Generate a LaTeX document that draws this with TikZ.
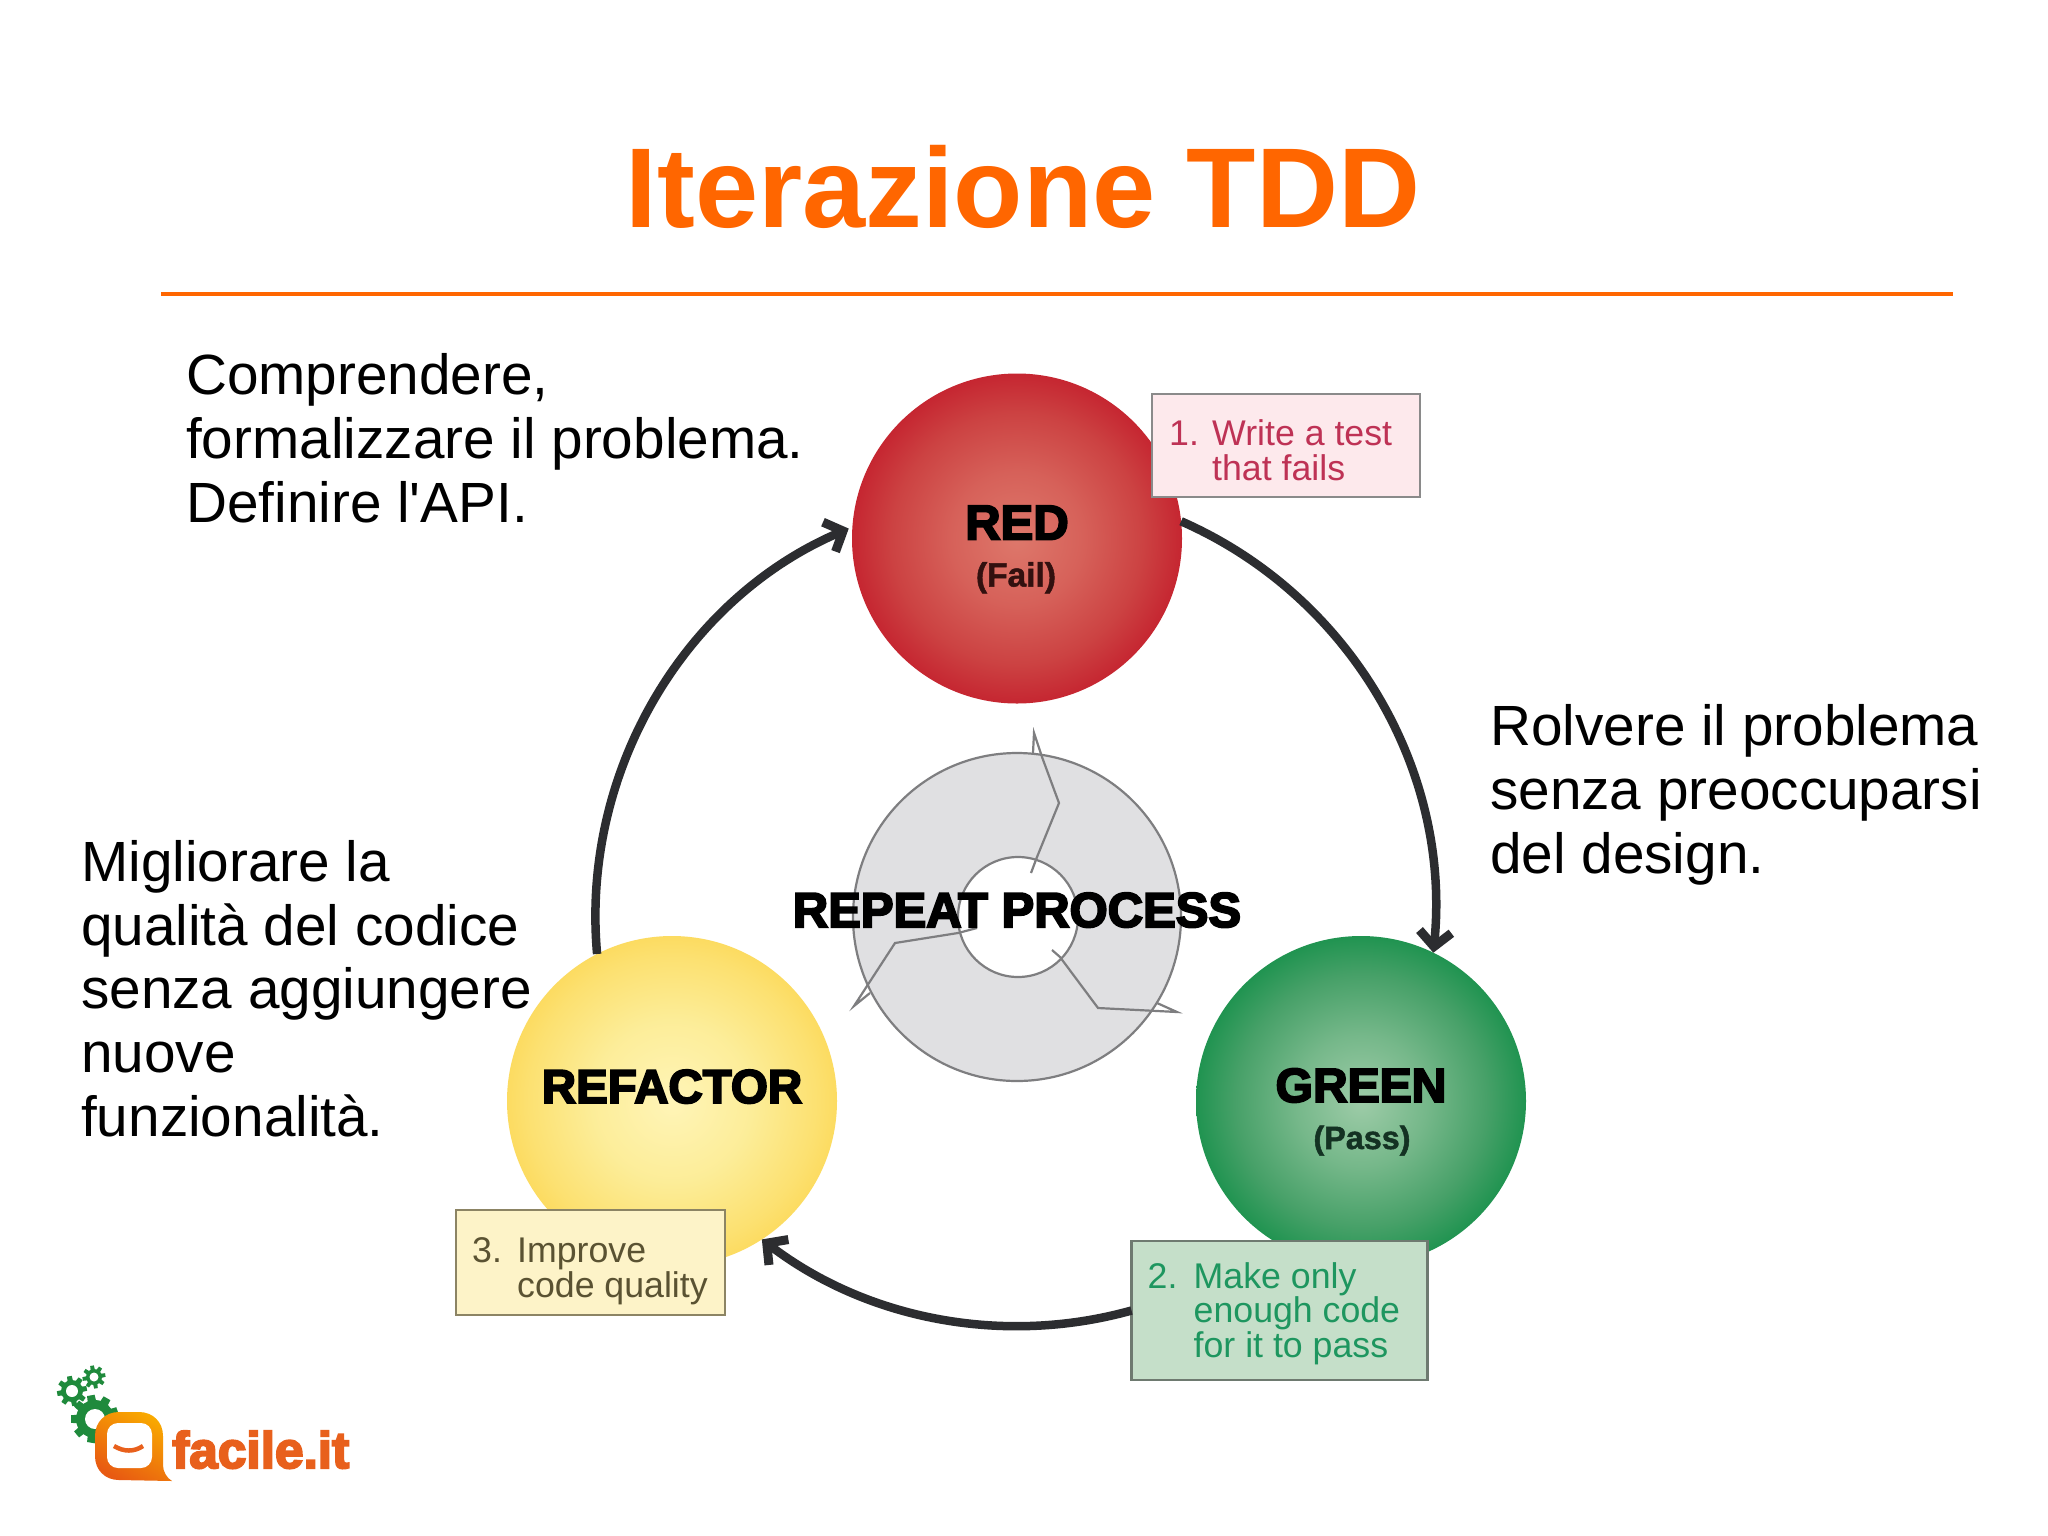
\documentclass[tikz,border=0pt]{standalone}
\usepackage{fontspec}
\usepackage{graphicx}
\setmainfont{Liberation Sans}
\newfontfamily\plainf{Liberation Sans}
\newfontfamily\heavy[UprightFont=* Bold,FakeBold=4]{Liberation Sans}
\newfontfamily\semiheavy[UprightFont=* Bold,FakeBold=1.5]{Liberation Sans}
\usetikzlibrary{arrows.meta,calc}
\definecolor{tddorange}{HTML}{FF6600}
\definecolor{arcgray}{HTML}{2C2D30}
\definecolor{ringfill}{HTML}{E0E0E2}
\definecolor{ringline}{HTML}{7E7E80}
\definecolor{gearg}{HTML}{1F8A3C}
\definecolor{logoor}{HTML}{E8601C}
\definecolor{boxonefill}{HTML}{FDE9EC}
\definecolor{boxoneline}{HTML}{8A8A8A}
\definecolor{boxonetext}{HTML}{BE3255}
\definecolor{boxtwofill}{HTML}{C5DFC9}
\definecolor{boxtwoline}{HTML}{6E7A70}
\definecolor{boxtwotext}{HTML}{1E965F}
\definecolor{boxthreefill}{HTML}{FDF3C8}
\definecolor{boxthreeline}{HTML}{8C8464}
\definecolor{boxthreetext}{HTML}{5A5232}
\definecolor{failtext}{HTML}{32100F}
\definecolor{passtext}{HTML}{143223}
\definecolor{bubbleA}{HTML}{F9AA00}
\definecolor{bubbleB}{HTML}{E85A12}
\pgfdeclareradialshading{redball}{\pgfpoint{0bp}{0bp}}{rgb(0bp)=(0.87,0.47,0.42);rgb(10bp)=(0.84,0.38,0.35);rgb(19bp)=(0.80,0.26,0.26);rgb(26bp)=(0.77,0.13,0.18);rgb(31bp)=(0.78,0.08,0.16);rgb(100bp)=(0.78,0.08,0.16)}
\pgfdeclareradialshading{greenball}{\pgfpoint{0bp}{0bp}}{rgb(0bp)=(0.62,0.80,0.66);rgb(10bp)=(0.46,0.72,0.54);rgb(19bp)=(0.28,0.63,0.41);rgb(26bp)=(0.10,0.57,0.30);rgb(31bp)=(0.04,0.55,0.26);rgb(100bp)=(0.04,0.55,0.26)}
\pgfdeclareradialshading{yellowball}{\pgfpoint{0bp}{0bp}}{rgb(0bp)=(1,0.96,0.72);rgb(12bp)=(0.99,0.93,0.60);rgb(22bp)=(0.99,0.88,0.44);rgb(28bp)=(0.99,0.84,0.32);rgb(32bp)=(0.99,0.83,0.28);rgb(100bp)=(0.99,0.83,0.28)}
\tikzset{
  x=1pt,y=1pt,
  body/.style={anchor=base west,inner sep=0pt,align=left,font=\plainf\fontsize{56.7}{63.6}\selectfont},
  ball/.style={circle,minimum size=330pt,inner sep=0pt,outer sep=0pt},
  arcline/.style={draw=arcgray,line width=8.5pt,-{Straight Barb[length=15pt,width=32pt,line width=9pt]}},
  tagbox/.style={rectangle,inner sep=0pt,outer sep=0pt,line width=2.5pt},
  tagtext/.style={anchor=base west,inner sep=0pt,align=left,font=\fontsize{35.7}{34.5}\selectfont},
  balltitle/.style={anchor=base,inner sep=0pt,text=black},
  ringedge/.style={draw=ringline,line width=2.2pt,line join=miter},
}
\newcommand{\gearshape}[6]{% x y R r hole teeth
  \fill[gearg] (#1,#2) circle[radius=#4];
  \foreach \k in {1,...,#6}{
    \fill[gearg,rotate around={\k*360/#6+10:(#1,#2)}]
      ($(#1,#2)+(-#3*0.22,0)$) -- ($(#1,#2)+(-#3*0.16,#3)$) -- ($(#1,#2)+(#3*0.16,#3)$) -- ($(#1,#2)+(#3*0.22,0)$) -- cycle;
  }
  \fill[white] (#1,#2) circle[radius=#5];
}
\begin{document}
\begin{tikzpicture}
\useasboundingbox (0,0) rectangle (2048,-1535);
\fill[white] (0,0) rectangle (2048,-1535);

% title
\node[anchor=base,inner sep=0pt,text=tddorange,font=\fontsize{113.5}{120}\selectfont\bfseries] (title) at (1023,-227) {Iterazione TDD};
\coordinate (ruleL) at (161,-294);
\coordinate (ruleR) at (1953,-294);
\draw[tddorange,line width=3.2pt] (ruleL) -- (ruleR);

% balls
\node[ball,shading=redball] (red) at (1017,-538.5) {};
\node[ball,shading=greenball] (green) at (1361,-1101) {};
\node[ball,shading=yellowball] (yellow) at (672,-1101) {};

% boxes
\node[tagbox,draw=boxoneline,fill=boxonefill,minimum width=268pt,minimum height=103pt] (box1) at (1286,-445.5) {};
\node[tagbox,draw=boxtwoline,fill=boxtwofill,minimum width=296pt,minimum height=139pt] (box2) at (1279.5,-1310.5) {};
\node[tagbox,draw=boxthreeline,fill=boxthreefill,minimum width=269pt,minimum height=105pt] (box3) at (590.5,-1262.5) {};

% cycle arrows
\draw[arcline] (red.6) to[bend left=36,looseness=0.94] (green.64);
\draw[arcline] (box2.west) to[bend left=26.5,looseness=0.9] (yellow.-57);
\draw[arcline,shorten >=4pt] (yellow.117) to[bend left=36,looseness=0.94] (red.176);

% ring
\fill[ringfill,even odd rule] (1017,-917) circle[radius=164] (1018,-917) circle[radius=60];
\draw[ringedge] (1017,-917) circle[radius=164];
\draw[ringedge] (1018,-917) circle[radius=60];
\draw[ringedge] (1033,-753) -- (1034,-733) -- (1042,-757) -- (1059,-803) -- (1037,-857) -- (1031,-873);
\draw[ringedge] (1157,-1003) -- (1177,-1012) -- (1098,-1008) -- (1060,-957) -- (1052,-950);
\draw[ringedge] (870,-993) -- (854,-1006) -- (895,-943) -- (958,-933) -- (977,-928);
\node[anchor=base,inner sep=0pt,font=\fontsize{49}{49}\selectfont\heavy] (rp) at (1017,-927) {REPEAT PROCESS};

% ball labels
\node[balltitle,font=\fontsize{49}{50}\selectfont\heavy] (redt) at (1017,-539.5) {RED};
\node[balltitle,text=failtext,font=\fontsize{33.5}{33}\selectfont\semiheavy] (reds) at (1016,-586.5) {(Fail)};
\node[balltitle,font=\fontsize{48}{48}\selectfont\heavy] (greent) at (1361,-1102) {GREEN};
\node[balltitle,text=passtext,font=\fontsize{32.3}{32}\selectfont\semiheavy] (greens) at (1362,-1149) {(Pass)};
\node[balltitle,font=\fontsize{47.5}{47}\selectfont\heavy] (yellowt) at (672,-1103) {REFACTOR};

% box texts
\node[tagtext,text=boxonetext] (t1) at (1169,-480) {\makebox[43pt][l]{1.}Write a test\\\hspace*{43pt}that fails};
\node[tagtext,text=boxtwotext] (t2) at (1147.5,-1357) {\makebox[46pt][l]{2.}Make only\\\hspace*{46pt}enough code\\\hspace*{46pt}for it to pass};
\node[tagtext,text=boxthreetext] (t3) at (472,-1297) {\makebox[45pt][l]{3.}Improve\\\hspace*{45pt}code quality};

% body texts
\node[body] (c1) at (186,-522) {Comprendere,\\formalizzare il problema.\\Definire l'API.};
\node[body] (c2) at (1490,-873) {Rolvere il problema\\senza preoccuparsi\\del design.};
\node[body] (c3) at (81,-1136) {Migliorare la\\qualità del codice\\senza aggiungere\\nuove\\funzionalità.};

% logo
\gearshape{72}{-1391}{15}{11}{6}{8}
\gearshape{94}{-1377}{11.5}{8}{4.5}{8}
\gearshape{95}{-1419}{24}{19}{10}{9}
\shade[left color=bubbleA,right color=bubbleB,shading angle=-30]
  (119,-1412) -- (139,-1412) .. controls (153,-1412) and (163,-1422) .. (163,-1436) -- (163,-1465) .. controls (163,-1472) and (167,-1478) .. (172,-1481) -- (119,-1480) .. controls (105,-1480) and (95,-1470) .. (95,-1456) -- (95,-1436) .. controls (95,-1422) and (105,-1412) .. (119,-1412) -- cycle;
\fill[white,rounded corners=11pt] (107,-1423) rectangle (152,-1468);
\draw[logoor,line width=4.5pt] (114,-1446) .. controls (124,-1452) and (134,-1452) .. (143,-1446);
\node[anchor=base west,inner sep=0pt,text=logoor] (logo) at (172,-1468) {\resizebox{177pt}{!}{\fontsize{55}{55}\selectfont\heavy facile.it}};
\end{tikzpicture}
\end{document}
